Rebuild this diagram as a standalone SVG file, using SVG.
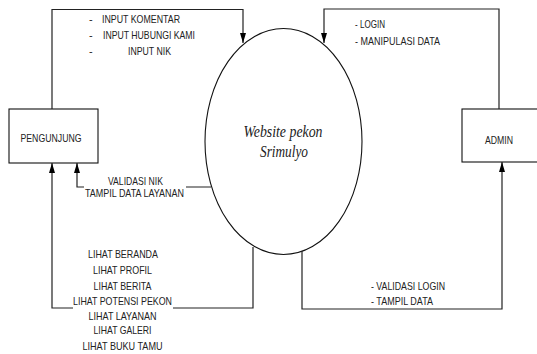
<svg xmlns="http://www.w3.org/2000/svg" width="537" height="354" viewBox="0 0 537 354">
<style>
  .box { fill: #fff; stroke: #111; stroke-width: 1.1; }
  .proc { fill: #fff; stroke: #111; stroke-width: 1.1; }
  .conn { fill: none; stroke: #222; stroke-width: 1.2; }
  .lbl { font-family: "Liberation Sans", Arial, sans-serif; font-size: 11px; fill: #222; }
  .mid { text-anchor: middle; }
  .title { font-family: "Liberation Serif", "DejaVu Serif", serif; font-style: italic; font-size: 17px; fill: #222; text-anchor: middle; }
</style>
<defs>
  <marker id="arr" viewBox="0 0 10 6" refX="10" refY="3" markerWidth="10" markerHeight="6" markerUnits="userSpaceOnUse" orient="auto">
    <path d="M0,0 L10,3 L0,6 z" fill="#000"/>
  </marker>
</defs>
<rect width="537" height="354" fill="#fff"/>

<g id="process">
  <ellipse class="proc" cx="283.5" cy="141.5" rx="78.5" ry="113"/>
  <text class="title" x="283" y="137" textLength="79" lengthAdjust="spacingAndGlyphs">Website pekon</text>
  <text class="title" x="284" y="157" textLength="48" lengthAdjust="spacingAndGlyphs">Srimulyo</text>
</g>

<g id="pengunjung">
  <rect class="box" x="9" y="109" width="89" height="54"/>
  <text class="lbl mid" x="51" y="141.5" textLength="61" lengthAdjust="spacingAndGlyphs">PENGUNJUNG</text>
</g>

<g id="admin">
  <rect class="box" x="462" y="109" width="90" height="53"/>
  <text class="lbl mid" x="499" y="144" textLength="28" lengthAdjust="spacingAndGlyphs">ADMIN</text>
</g>

<g id="connectors">
  <path class="conn" d="M52,109 V9.5 H243 V43" marker-end="url(#arr)"/>
  <path class="conn" d="M499,109 V9 H324 V43" marker-end="url(#arr)"/>
  <path class="conn" d="M211,187 H186 M84,187 H77 V163" marker-end="url(#arr)"/>
  <path class="conn" d="M253,247 V308 H173 M73,308 H52 V163" marker-end="url(#arr)"/>
  <path class="conn" d="M302,251 V309 H502 V162" marker-end="url(#arr)"/>
</g>

<g id="labels">
  <text class="lbl" x="89" y="23">-</text>
  <text class="lbl" x="102" y="23" textLength="78" lengthAdjust="spacingAndGlyphs">INPUT KOMENTAR</text>
  <text class="lbl" x="89" y="38.5">-</text>
  <text class="lbl" x="103" y="38.5" textLength="92" lengthAdjust="spacingAndGlyphs">INPUT HUBUNGI KAMI</text>
  <text class="lbl" x="89" y="55">-</text>
  <text class="lbl" x="128" y="55" textLength="43" lengthAdjust="spacingAndGlyphs">INPUT NIK</text>

  <text class="lbl" x="355" y="28" textLength="30" lengthAdjust="spacingAndGlyphs">- LOGIN</text>
  <text class="lbl" x="355" y="45" textLength="85" lengthAdjust="spacingAndGlyphs">- MANIPULASI DATA</text>

  <text class="lbl" x="108" y="185" textLength="55" lengthAdjust="spacingAndGlyphs">VALIDASI NIK</text>
  <text class="lbl" x="85" y="197" textLength="99" lengthAdjust="spacingAndGlyphs">TAMPIL DATA LAYANAN</text>

  <text class="lbl mid" x="123" y="258" textLength="70" lengthAdjust="spacingAndGlyphs">LIHAT BERANDA</text>
  <text class="lbl mid" x="122.5" y="274" textLength="59" lengthAdjust="spacingAndGlyphs">LIHAT PROFIL</text>
  <text class="lbl mid" x="122.5" y="290" textLength="58" lengthAdjust="spacingAndGlyphs">LIHAT BERITA</text>
  <text class="lbl mid" x="122.5" y="304.5" textLength="99" lengthAdjust="spacingAndGlyphs">LIHAT POTENSI PEKON</text>
  <text class="lbl mid" x="122.5" y="320" textLength="68" lengthAdjust="spacingAndGlyphs">LIHAT LAYANAN</text>
  <text class="lbl mid" x="122.5" y="334" textLength="58" lengthAdjust="spacingAndGlyphs">LIHAT GALERI</text>
  <text class="lbl mid" x="122.5" y="350" textLength="80" lengthAdjust="spacingAndGlyphs">LIHAT BUKU TAMU</text>

  <text class="lbl" x="371" y="290" textLength="74" lengthAdjust="spacingAndGlyphs">- VALIDASI LOGIN</text>
  <text class="lbl" x="371" y="304.5" textLength="62" lengthAdjust="spacingAndGlyphs">- TAMPIL DATA</text>
</g>
</svg>
